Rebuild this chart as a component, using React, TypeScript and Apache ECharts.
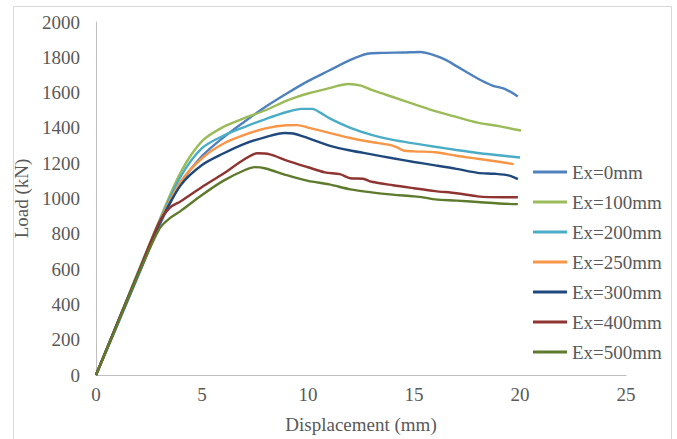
import React, { useEffect, useRef } from "react";
import * as echarts from "echarts";

type Pt = [number, number];

const seriesNames = ["Ex=0mm", "Ex=100mm", "Ex=200mm", "Ex=250mm", "Ex=300mm", "Ex=400mm", "Ex=500mm"];
const seriesColors = ["#4F81BD", "#9BBB59", "#4BACC6", "#F79646", "#1F497D", "#8E3431", "#5E7A2C"];

const ex0: Pt[] = [[0,0],[1,280],[2,565],[3,850],[4,1085],[5,1240],[6,1345],[7,1435],[8,1520],[9,1595],[10,1665],[11,1725],[12,1785],[12.8,1820],[13.5,1825],[14.5,1827],[15.3,1830],[16,1810],[16.5,1785],[17,1750],[18,1680],[18.7,1640],[19.3,1620],[19.9,1578]];
const ex100: Pt[] = [[0,0],[1,295],[2,590],[3,880],[4,1150],[5,1325],[6,1405],[7,1455],[8,1500],[9,1555],[10,1595],[11,1625],[11.9,1649],[12.5,1640],[13,1615],[13.5,1595],[14,1575],[15,1535],[16,1495],[17,1462],[18,1430],[19,1410],[20.05,1385]];
const ex200: Pt[] = [[0,0],[1,292],[2,585],[3,870],[4,1125],[5,1285],[6,1355],[7,1405],[8,1450],[9,1490],[9.7,1508],[10.2,1508],[10.6,1485],[11,1455],[12,1400],[13,1360],[14,1332],[15,1312],[16,1293],[17,1275],[18,1258],[19,1245],[20,1232]];
const ex250: Pt[] = [[0,0],[1,290],[2,580],[3,865],[4,1095],[5,1228],[6,1310],[7,1360],[8,1397],[9,1415],[9.5,1416],[10,1402],[11,1372],[12,1343],[13,1320],[13.8,1305],[14.2,1290],[14.5,1272],[15,1267],[16,1262],[17,1242],[18,1225],[19,1208],[19.7,1195]];
const ex300: Pt[] = [[0,0],[1,290],[2,580],[3,860],[4,1076],[5,1190],[6,1255],[7,1310],[8,1348],[8.9,1371],[9.3,1368],[10,1342],[11,1300],[12,1272],[13,1250],[14,1228],[15,1207],[16,1188],[17,1168],[18,1145],[18.8,1140],[19.5,1130],[19.9,1110]];
const ex400: Pt[] = [[0,0],[1,290],[2,580],[3,870],[3.5,950],[4,985],[5,1065],[6,1140],[7,1222],[7.6,1256],[8.2,1250],[9,1215],[10,1177],[10.8,1148],[11.5,1138],[12,1115],[12.6,1112],[13,1095],[14,1075],[15,1058],[16,1042],[17,1030],[18,1012],[18.5,1008],[19.9,1007]];
const ex500: Pt[] = [[0,0],[1,285],[2,570],[3,830],[3.5,890],[4,930],[5,1020],[6,1100],[7,1160],[7.5,1178],[8,1170],[9,1132],[10,1100],[11,1080],[12,1052],[13,1035],[14,1022],[15,1012],[15.5,1005],[16,995],[17,988],[18,980],[19,972],[19.9,968]];

const seriesData: Pt[][] = [ex0, ex100, ex200, ex250, ex300, ex400, ex500];

const xAxisTitle = "Displacement (mm)";
const yAxisTitle = "Load (kN)";

const FONT = "Liberation Serif";
const TEXT_COLOR = "#595959";
const FS = 19;

const labelStyle = {
  fontFamily: FONT,
  fontSize: FS,
  color: TEXT_COLOR,
  rich: { t: { fontFamily: FONT, fontSize: FS, color: TEXT_COLOR } },
  formatter: (v: number) => "{t|" + String(v) + "}",
};

export default function App() {
  const ref = useRef<HTMLDivElement>(null);
  useEffect(() => {
    if (!ref.current) return;
    const chart = echarts.init(ref.current, undefined, { renderer: "svg" });
    chart.setOption({
      animation: false,
      backgroundColor: "#ffffff",
      textStyle: { fontFamily: FONT, color: TEXT_COLOR },
      graphic: [
        {
          type: "rect",
          shape: { x: 13.5, y: 6.5, width: 658, height: 440 },
          style: { fill: "none", stroke: "#d9d9d9", lineWidth: 1 },
          silent: true,
        },
      ],
      grid: { left: 96, right: 51, top: 22, bottom: 64, containLabel: false },
      legend: {
        orient: "vertical",
        left: 528,
        top: 157,
        icon: "rect",
        itemWidth: 34,
        itemHeight: 3,
        itemGap: 10,
        data: seriesNames,
        textStyle: { fontFamily: FONT, fontSize: FS, color: TEXT_COLOR, lineHeight: 20 },
      },
      xAxis: {
        type: "value",
        min: 0,
        max: 25,
        interval: 5,
        name: xAxisTitle,
        nameLocation: "middle",
        nameGap: 40,
        nameTextStyle: { fontFamily: FONT, fontSize: FS, color: TEXT_COLOR },
        axisLine: { show: true, lineStyle: { color: "#bfbfbf", width: 1 } },
        axisTick: { show: false },
        splitLine: { show: false },
        axisLabel: { ...labelStyle, margin: 10 },
      },
      yAxis: {
        type: "value",
        min: 0,
        max: 2000,
        interval: 200,
        name: yAxisTitle,
        nameLocation: "middle",
        nameGap: 55,
        nameRotate: 90,
        nameTextStyle: { fontFamily: FONT, fontSize: FS, color: TEXT_COLOR },
        axisLine: { show: true, lineStyle: { color: "#bfbfbf", width: 1 } },
        axisTick: { show: false },
        splitLine: { show: false },
        axisLabel: { ...labelStyle, margin: 16 },
      },
      series: seriesNames.map((name, i) => ({
        name,
        type: "line",
        data: seriesData[i],
        smooth: 0.3,
        showSymbol: false,
        symbol: "none",
        color: seriesColors[i],
        lineStyle: { color: seriesColors[i], width: 2.4 },
        itemStyle: { color: seriesColors[i] },
      })),
    });
    return () => chart.dispose();
  }, []);
  return (
    <div
      ref={ref}
      style={{ position: "fixed", left: 0, top: 0, width: 677, height: 439, background: "#fff" }}
    />
  );
}
